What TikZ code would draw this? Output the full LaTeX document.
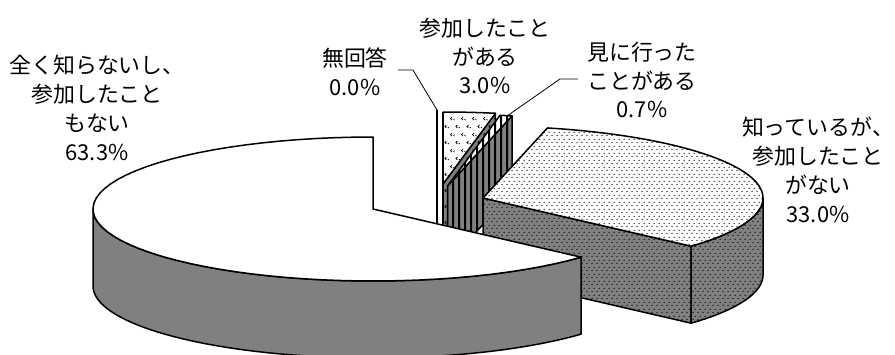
\documentclass[tikz,border=0pt]{standalone}
\usepackage{fontspec}
\setmainfont{Noto Sans CJK JP}
\usetikzlibrary{patterns,patterns.meta}

\pgfdeclarepattern{
  name=sdots, type=uncolored,
  bottom left={\pgfpoint{0pt}{0pt}}, top right={\pgfpoint{4.6pt}{6.6pt}},
  tile size={\pgfpoint{4.6pt}{6.6pt}},
  code={
    \pgfpathcircle{\pgfpoint{1.15pt}{1.65pt}}{0.75pt}
    \pgfpathcircle{\pgfpoint{3.45pt}{4.95pt}}{0.75pt}
    \pgfusepath{fill}
  }
}
\pgfdeclarepattern{
  name=divot, type=uncolored,
  bottom left={\pgfpoint{0pt}{0pt}}, top right={\pgfpoint{11pt}{16pt}},
  tile size={\pgfpoint{11pt}{16pt}},
  code={
    \pgfsetlinewidth{0.75pt}
    \pgfpathmoveto{\pgfpoint{3pt}{14pt}}\pgfpathlineto{\pgfpoint{1.5pt}{12.5pt}}\pgfpathlineto{\pgfpoint{3pt}{11pt}}
    \pgfpathmoveto{\pgfpoint{4.5pt}{12pt}}\pgfpathlineto{\pgfpoint{5.5pt}{11pt}}
    \pgfpathmoveto{\pgfpoint{8.5pt}{6pt}}\pgfpathlineto{\pgfpoint{7pt}{4.5pt}}\pgfpathlineto{\pgfpoint{8.5pt}{3pt}}
    \pgfpathmoveto{\pgfpoint{10pt}{4pt}}\pgfpathlineto{\pgfpoint{11pt}{3pt}}
    \pgfusepath{stroke}
  }
}
\pgfdeclarepattern{
  name=vstripes, type=uncolored,
  bottom left={\pgfpoint{0pt}{0pt}}, top right={\pgfpoint{5.6pt}{4pt}},
  tile size={\pgfpoint{5.6pt}{4pt}},
  code={
    \pgfpathrectangle{\pgfpoint{0pt}{0pt}}{\pgfpoint{2.2pt}{4pt}}
    \pgfusepath{fill}
  }
}

\def\pieRX{280}
\def\pieRY{72}
\def\pieD{77}
% top face of a slice: centre x, centre y, start angle, end angle (clockwise from back)
\newcommand\topface[4]{(#1,#2) -- plot[domain=#3:#4,samples=60] ({#1+\pieRX*sin(\x)},{#2-\pieRY*cos(\x)}) -- cycle}
% outer side face
\newcommand\sideface[4]{plot[domain=#3:#4,samples=60] ({#1+\pieRX*sin(\x)},{#2-\pieRY*cos(\x)}) -- plot[domain=#4:#3,samples=60] ({#1+\pieRX*sin(\x)},{#2+\pieD-\pieRY*cos(\x)}) -- cycle}
% radial cut face at one angle
\newcommand\cutface[3]{(#1,#2) -- ({#1+\pieRX*sin(#3)},{#2-\pieRY*cos(#3)}) -- ({#1+\pieRX*sin(#3)},{#2+\pieD-\pieRY*cos(#3)}) -- (#1,{#2+\pieD}) -- cycle}

\begin{document}
\begin{tikzpicture}[x=1bp,y=-1bp, line join=round,
  edge/.style={draw=black, line width=1.5bp},
  lead/.style={draw=black, line width=0.8bp},
  lbl/.style={align=center, inner sep=0pt, font=\fontsize{22}{29}\selectfont}]
\useasboundingbox (0,0) rectangle (895,354);

% 0.0% slice (a line)
\coordinate (e0) at (437,110);
\coordinate (e1) at (437,259);
\draw[edge] (e0) -- (e1);

% 3.0% slice
\draw[edge, preaction={fill=gray}, pattern=divot, pattern color=black] \cutface{443}{184}{10.8};
\draw[edge, preaction={fill=white}, pattern=divot, pattern color=black] \topface{443}{184}{0}{10.8};
\draw[edge] (443,112) -- (443,261);

% 0.7% slice
\draw[edge, preaction={fill=gray}, pattern=vstripes, pattern color=black] \cutface{447.6}{186}{13.3};
\draw[edge, preaction={fill=white}, pattern=vstripes, pattern color=black] \topface{447.6}{186}{10.8}{13.3};
\coordinate (d0) at (507,116);

% 33.0% slice
\draw[edge, preaction={fill=gray}, pattern=sdots, pattern color=black] \cutface{483}{198}{132};
\draw[edge, preaction={fill=gray}, pattern=sdots, pattern color=black] \sideface{483}{198}{90}{132};
\draw[edge, preaction={fill=white}, pattern=sdots, pattern color=black] \topface{483}{198}{13.3}{132};

% 63.3% slice
\draw[edge, fill=gray] \sideface{373}{209}{132}{270};
\draw[edge, fill=white] \topface{373}{209}{132}{360};

% labels
\node[lbl] (lA) at (97,108) {全く知らないし、\\参加したこと\\もない\\63.3\%};
\node[lbl] (lE) at (355,72) {無回答\\0.0\%};
\node[lbl] (lC) at (485,56) {参加したこと\\がある\\3.0\%};
\node[lbl] (lD) at (642,80) {見に行った\\ことがある\\0.7\%};
\node[lbl] (lB) at (818,170) {知っているが、\\参加したこと\\がない\\33.0\%};

% leader lines
\coordinate (le) at (398,70);
\coordinate (ld) at (578,79);
\draw[lead] (le) -- (413,70) -- (e0);
\draw[lead] (ld) -- (560,79) -- (d0);
\end{tikzpicture}
\end{document}
